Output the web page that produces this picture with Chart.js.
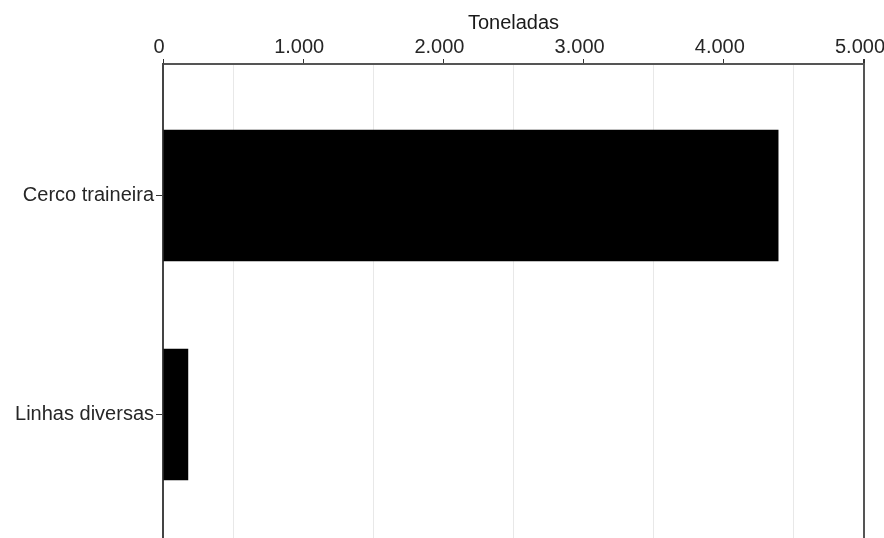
<!DOCTYPE html>
<html>
<head>
<meta charset="utf-8">
<script src="https://cdn.jsdelivr.net/npm/chart.js@4"></script>
<style>
  html, body { margin: 0; padding: 0; background: #fff; }
  #wrap { width: 884px; height: 538px; overflow: hidden; }
</style>
</head>
<body>
<div id="wrap"><canvas id="gearChart" width="884" height="560"></canvas></div>
<script>
// Landings by gear (tonnes)
const categories = ['Cerco traineira', 'Linhas diversas'];
const tonnes = [4390, 180];
const xTicks = [0, 1000, 2000, 3000, 4000, 5000];

const fmt = v => v.toLocaleString('de-DE');
const FONT = 'Arial, "Liberation Sans", sans-serif';

document.addEventListener("DOMContentLoaded", function () {
  const ctx = document.getElementById('gearChart');
  new Chart(ctx, {
    type: 'bar',
    data: {
      datasets: [{
        label: 'Toneladas',
        data: tonnes.map((v, i) => ({ x: v, y: i })),
        backgroundColor: '#000',
        borderWidth: 0,
        barPercentage: 0.6,
        categoryPercentage: 1
      }]
    },
    options: {
      indexAxis: 'y',
      responsive: false,
      animation: false,
      layout: { padding: { top: 11, right: 20, left: 0, bottom: 0 } },
      plugins: {
        legend: { display: false },
        tooltip: { enabled: false }
      },
      scales: {
        x: {
          type: 'linear',
          position: 'top',
          min: 0,
          max: 5000,
          afterFit: s => { s.paddingRight = 0; },
          ticks: {
            stepSize: 500,
            autoSkip: false,
            maxRotation: 0,
            padding: 0,
            labelOffset: -4,
            color: '#262626',
            font: { family: FONT, size: 20 },
            callback: v => xTicks.includes(v) ? fmt(v) : ''
          },
          grid: {
            tickLength: 5,
            color: c => c.tick.value === 5000 ? '#555' : (c.tick.value % 1000 === 0 ? 'rgba(0,0,0,0)' : '#e8e8e8'),
            lineWidth: c => c.tick.value === 5000 ? 2 : 1,
            tickColor: c => c.tick.value % 1000 === 0 ? '#333' : 'rgba(0,0,0,0)'
          },
          border: { color: '#555', width: 2 },
          title: {
            display: true,
            text: 'Toneladas',
            color: '#1a1a1a',
            padding: { top: 0, bottom: 0 },
            font: { family: FONT, size: 20 }
          }
        },
        y: {
          type: 'linear',
          reverse: true,
          offset: false,
          min: -0.6,
          max: 1.6,
          afterBuildTicks: s => { s.ticks = s.ticks.filter(t => Number.isInteger(t.value) && t.value >= 0 && t.value < categories.length); },
          afterFit: s => { s.width = 163; },
          ticks: {
            stepSize: 1,
            padding: 2,
            color: '#262626',
            font: { family: FONT, size: 20 },
            callback: v => categories[v] || ''
          },
          grid: {
            offset: false,
            drawOnChartArea: false,
            tickLength: 7,
            tickColor: '#333'
          },
          border: { color: '#444', width: 2 }
        }
      }
    }
  });
});
</script>
</body>
</html>
